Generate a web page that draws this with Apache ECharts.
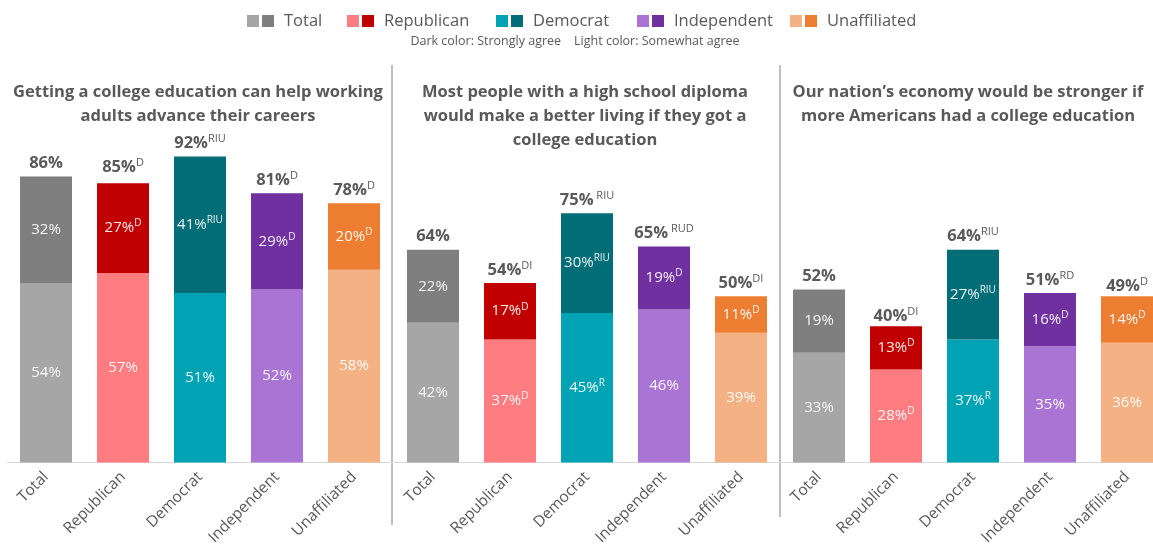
<!DOCTYPE html>
<html>
<head>
<meta charset="utf-8">
<script src="https://cdn.jsdelivr.net/npm/echarts@6/dist/echarts.min.js"></script>
<style>
  html, body { margin: 0; padding: 0; background: #ffffff; overflow: hidden; }
  /* canvas is a little wider than the window so the last panel runs off the edge */
  #chart { width: 1170px; height: 548px; }
</style>
</head>
<body>
<div id="chart"></div>
<script>
// Party groups shown on every panel
const categories = ['Total', 'Republican', 'Democrat', 'Independent', 'Unaffiliated'];

// Panel headings
const panelTitles = [
  'Getting a college education can help working\nadults advance their careers',
  'Most people with a high school diploma\nwould make a better living if they got a\ncollege education',
  'Our nation\u2019s economy would be stronger if\nmore Americans had a college education'
];

// Panel 1: career advancement
const careersTotal    = [86, 85, 92, 81, 78];
const careersStrong   = [32, 27, 41, 29, 20];
const careersSomewhat = [54, 57, 51, 52, 58];
const careersTotalSig    = ['', 'D', 'RIU', 'D', 'D'];
const careersStrongSig   = ['', 'D', 'RIU', 'D', 'D'];
const careersSomewhatSig = ['', '', '', '', ''];

// Panel 2: better living with a degree
const livingTotal    = [64, 54, 75, 65, 50];
const livingStrong   = [22, 17, 30, 19, 11];
const livingSomewhat = [42, 37, 45, 46, 39];
const livingTotalSig    = ['', 'DI', ' RIU', ' RUD', 'DI'];
const livingStrongSig   = ['', 'D', 'RIU', 'D', 'D'];
const livingSomewhatSig = ['', 'D', 'R', '', ''];

// Panel 3: stronger national economy
const economyTotal    = [52, 40, 64, 51, 49];
const economyStrong   = [19, 13, 27, 16, 14];
const economySomewhat = [33, 28, 37, 35, 36];
const economyTotalSig    = ['', 'DI', 'RIU', 'RD', 'D'];
const economyStrongSig   = ['', 'D', 'RIU', 'D', 'D'];
const economySomewhatSig = ['', 'D', 'R', '', ''];

// Colours per group: light = somewhat agree, dark = strongly agree
const lightColors = ['#a6a6a6', '#ff7c80', '#00a3b4', '#aa74d5', '#f4b183'];
const darkColors  = ['#7f7f7f', '#c00000', '#006d77', '#7030a0', '#ed7d31'];

const panels = [
  { total: careersTotal, strong: careersStrong, somewhat: careersSomewhat,
    totalSig: careersTotalSig, strongSig: careersStrongSig, somewhatSig: careersSomewhatSig },
  { total: livingTotal, strong: livingStrong, somewhat: livingSomewhat,
    totalSig: livingTotalSig, strongSig: livingStrongSig, somewhatSig: livingSomewhatSig },
  { total: economyTotal, strong: economyStrong, somewhat: economySomewhat,
    totalSig: economyTotalSig, strongSig: economyStrongSig, somewhatSig: economySomewhatSig }
];

const FONT = '"Open Sans", "Noto Sans", sans-serif';
const TEXT_GRAY = '#595959';

// Layout of the three side-by-side plots
const gridLefts = [7.5, 394.5, 780.5];
const gridWidth = 385;
const gridTop = 130;
const gridHeight = 333;
const titleCenters = [198, 585, 968];

const grids = [], xAxes = [], yAxes = [], series = [];

panels.forEach((p, k) => {
  grids.push({ left: gridLefts[k], width: gridWidth, top: gridTop, height: gridHeight, containLabel: false });
  xAxes.push({
    type: 'category', gridIndex: k, data: categories,
    axisLine: { lineStyle: { color: '#d9d9d9', width: 1 } },
    axisTick: { show: false },
    axisLabel: { rotate: 45, margin: 12, color: TEXT_GRAY, fontFamily: FONT, fontSize: 15.5, interval: 0 }
  });
  yAxes.push({ type: 'value', gridIndex: k, min: 0, max: 100, show: false, splitLine: { show: false } });

  // Overall agreement: invisible full-height bar carrying the label above the stack
  series.push({
    type: 'bar', name: 'Total agree ' + k, xAxisIndex: k, yAxisIndex: k,
    barWidth: 52, barGap: '-100%', silent: true, z: 1,
    itemStyle: { color: 'rgba(0,0,0,0)' },
    data: p.total.map(v => v),
    label: {
      show: true, position: 'top', distance: 3,
      formatter: ({ dataIndex }) => {
        const sig = p.totalSig[dataIndex];
        return '{v|' + p.total[dataIndex] + '%}' + (sig ? '{s|' + sig + '}' : '');
      },
      rich: {
        v: { fontFamily: FONT, fontSize: 16.5, fontWeight: 'bold', color: TEXT_GRAY, lineHeight: 20 },
        s: { fontFamily: FONT, fontSize: 11, color: TEXT_GRAY, lineHeight: 12, verticalAlign: 'top' }
      }
    }
  });

  const innerRich = {
    v: { fontFamily: FONT, fontSize: 15, color: 'rgba(255,255,255,0.92)', lineHeight: 19 },
    s: { fontFamily: FONT, fontSize: 10, color: 'rgba(255,255,255,0.92)', lineHeight: 11, verticalAlign: 'top' }
  };

  // Somewhat agree (lower, light segment)
  series.push({
    type: 'bar', name: 'Somewhat agree ' + k, xAxisIndex: k, yAxisIndex: k,
    stack: 'agree' + k, barWidth: 52, z: 2,
    data: p.somewhat.map((v, i) => ({ value: v, itemStyle: { color: lightColors[i] } })),
    label: {
      show: true, position: 'inside',
      formatter: ({ dataIndex }) => {
        const sig = p.somewhatSig[dataIndex];
        return '{v|' + p.somewhat[dataIndex] + '%}' + (sig ? '{s|' + sig + '}' : '');
      },
      rich: innerRich
    }
  });

  // Strongly agree (upper, dark segment)
  series.push({
    type: 'bar', name: 'Strongly agree ' + k, xAxisIndex: k, yAxisIndex: k,
    stack: 'agree' + k, barWidth: 52, z: 2,
    data: p.strong.map((v, i) => ({ value: v, itemStyle: { color: darkColors[i] } })),
    label: {
      show: true, position: 'inside',
      formatter: ({ dataIndex }) => {
        const sig = p.strongSig[dataIndex];
        return '{v|' + p.strong[dataIndex] + '%}' + (sig ? '{s|' + sig + '}' : '');
      },
      rich: innerRich
    }
  });
});

// Legend: a light and a dark swatch followed by the group name
const legendX = [247, 347, 496, 637, 790];
const graphics = [];
categories.forEach((name, i) => {
  const x = legendX[i];
  graphics.push({ type: 'rect', left: x, top: 15, shape: { width: 12, height: 12 }, style: { fill: lightColors[i] } });
  graphics.push({ type: 'rect', left: x + 15, top: 15, shape: { width: 12, height: 12 }, style: { fill: darkColors[i] } });
  graphics.push({
    type: 'text', x: x + 37, y: 21,
    style: { text: name, font: '16.5px ' + FONT, fill: TEXT_GRAY, textVerticalAlign: 'middle' }
  });
});
graphics.push({
  type: 'text', x: 575, y: 41,
  style: {
    text: 'Dark color: Strongly agree    Light color: Somewhat agree',
    font: '12.5px ' + FONT, fill: TEXT_GRAY, textAlign: 'center', textVerticalAlign: 'middle'
  }
});

// Panel headings
panelTitles.forEach((t, k) => {
  graphics.push({
    type: 'text', x: titleCenters[k], y: 80,
    style: {
      text: t, font: 'bold 16.5px ' + FONT, fill: TEXT_GRAY,
      textAlign: 'center', lineHeight: 24
    }
  });
});

// Vertical dividers between panels
graphics.push({ type: 'line', shape: { x1: 392, y1: 65, x2: 392, y2: 525 }, style: { stroke: '#7f7f7f', lineWidth: 1 } });
graphics.push({ type: 'line', shape: { x1: 780, y1: 65, x2: 780, y2: 517 }, style: { stroke: '#7f7f7f', lineWidth: 1 } });

const chart = echarts.init(document.getElementById('chart'), null, { renderer: 'canvas' });
chart.setOption({
  backgroundColor: '#ffffff',
  animation: false,
  grid: grids,
  xAxis: xAxes,
  yAxis: yAxes,
  series: series,
  graphic: graphics
});
</script>
</body>
</html>
